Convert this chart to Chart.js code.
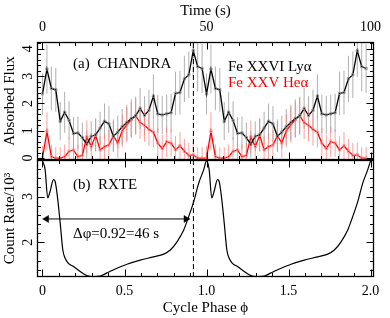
<!DOCTYPE html>
<html><head><meta charset="utf-8">
<script src="https://cdn.jsdelivr.net/npm/chart.js@4.4.1/dist/chart.umd.min.js"></script>
<style>
html,body{margin:0;padding:0;background:#fff;}
#wrap{position:relative;width:390px;height:318px;background:#fff;}
canvas{position:absolute;left:0;top:0;}
</style></head><body>
<div id="wrap"><canvas id="ca" width="390" height="318"></canvas><canvas id="cb" width="390" height="318"></canvas></div>
<script>
// ---------- DATA ----------
// Chandra phase bins (two folded cycles)
const PHASE = [0.000,0.027,0.054,0.081,0.108,0.135,0.162,0.189,0.216,0.243,0.270,0.297,0.324,0.351,0.378,0.405,0.432,0.459,0.486,0.514,0.541,0.568,0.595,0.622,0.649,0.676,0.703,0.730,0.757,0.784,0.811,0.838,0.865,0.892,0.919,0.946,0.973,
1.000,1.027,1.054,1.081,1.108,1.135,1.162,1.189,1.216,1.243,1.270,1.297,1.324,1.351,1.378,1.405,1.432,1.459,1.486,1.514,1.541,1.568,1.595,1.622,1.649,1.676,1.703,1.730,1.757,1.784,1.811,1.838,1.865,1.892,1.919,1.946,1.973];
// Fe XXVI Ly-alpha absorbed flux
const FE26 = [2.35,3.26,2.55,2.50,1.35,1.68,1.38,0.90,0.92,0.75,0.50,0.80,0.85,1.10,1.35,1.25,0.80,0.95,1.15,1.30,1.45,1.55,1.82,1.56,1.75,2.27,1.62,1.58,1.62,1.66,2.37,2.40,2.90,3.05,3.93,3.35,3.28,
2.35,3.26,2.55,2.50,1.35,1.68,1.38,0.90,0.92,0.75,0.50,0.80,0.85,1.10,1.35,1.25,0.80,0.95,1.15,1.30,1.45,1.55,1.82,1.56,1.75,2.27,1.62,1.58,1.62,1.66,2.37,2.40,2.90,3.05,3.93,3.35,3.28];
const FE26_ERR = [0.75,0.90,0.80,0.80,0.70,0.75,0.70,0.60,0.60,0.55,0.50,0.55,0.60,0.60,0.65,0.65,0.55,0.60,0.65,0.65,0.70,0.70,0.75,0.70,0.75,0.80,0.70,0.70,0.70,0.70,0.80,0.80,0.85,0.85,0.95,0.90,0.90,
0.75,0.90,0.80,0.80,0.70,0.75,0.70,0.60,0.60,0.55,0.50,0.55,0.60,0.60,0.65,0.65,0.55,0.60,0.65,0.65,0.70,0.70,0.75,0.70,0.75,0.80,0.70,0.70,0.70,0.70,0.80,0.80,0.85,0.85,0.95,0.90,0.90];
// Fe XXV He-alpha absorbed flux
const FE25 = [0.00,0.98,0.05,0.00,0.00,0.05,0.25,0.30,0.05,0.10,0.78,0.42,0.84,0.30,0.42,0.48,0.82,0.55,1.00,1.22,1.40,1.55,1.30,1.20,1.05,0.95,0.55,0.35,0.60,0.55,0.30,0.45,0.25,0.10,0.12,0.00,0.00,
0.00,0.98,0.05,0.00,0.00,0.05,0.25,0.30,0.05,0.10,0.78,0.42,0.84,0.30,0.42,0.48,0.82,0.55,1.00,1.22,1.40,1.55,1.30,1.20,1.05,0.95,0.55,0.35,0.60,0.55,0.30,0.45,0.25,0.10,0.12,0.00,0.00];
const FE25_ERR = [0.45,0.70,0.45,0.40,0.40,0.45,0.50,0.50,0.45,0.45,0.60,0.50,0.60,0.50,0.50,0.55,0.60,0.55,0.60,0.65,0.65,0.65,0.60,0.60,0.60,0.55,0.55,0.50,0.55,0.50,0.50,0.50,0.45,0.45,0.45,0.40,0.40,
0.45,0.70,0.45,0.40,0.40,0.45,0.50,0.50,0.45,0.45,0.60,0.50,0.60,0.50,0.50,0.55,0.60,0.55,0.60,0.65,0.65,0.65,0.60,0.60,0.60,0.55,0.55,0.50,0.55,0.50,0.50,0.50,0.45,0.45,0.45,0.40,0.40];
// RXTE light curve (count rate / 1000)
const RXTE_PHASE = [0.000,0.016,0.032,0.046,0.067,0.077,0.091,0.108,0.124,0.138,0.158,0.189,0.230,0.270,0.311,0.352,0.393,0.454,0.515,0.596,0.677,0.739,0.779,0.820,0.861,0.891,0.922,0.952,0.983,
1.000,1.016,1.032,1.046,1.067,1.077,1.091,1.108,1.124,1.138,1.158,1.189,1.230,1.270,1.311,1.352,1.393,1.454,1.515,1.596,1.677,1.739,1.779,1.820,1.861,1.891,1.922,1.952,1.983,2.000];
const RXTE_RATE = [3.78,3.59,2.97,3.11,3.37,3.33,3.00,2.42,1.83,1.65,1.54,1.47,1.36,1.27,1.25,1.26,1.33,1.43,1.52,1.61,1.68,1.74,1.83,2.01,2.27,2.56,2.89,3.29,3.59,
3.78,3.59,2.97,3.11,3.37,3.33,3.00,2.42,1.83,1.65,1.54,1.47,1.36,1.27,1.25,1.26,1.33,1.43,1.52,1.61,1.68,1.74,1.83,2.01,2.27,2.56,2.89,3.29,3.59,3.78];
// phase delay marker and arrow
const DELAY_PHASE = 0.92;
const ARROW_PHASE = [0.025, 0.875];
const ARROW_RATE = [2.51, 2.51];
// axis ranges and tick labels
const X_RANGE = [-0.0335, 2.021];
const SECONDS_PER_CYCLE = 50;
const TIME_TICKS = [0, 50, 100];
const PHASE_TICKS = [0, 0.5, 1, 1.5, 2];
const FLUX_RANGE = [-0.07, 4.25];
const RATE_RANGE = [1.24, 3.80];

// ---------- STYLE ----------
const SERIF = '"Liberation Serif","Times New Roman",serif';
const pts = (xs, ys) => xs.map((x, i) => ({x, y: ys[i]}));
const errs = (xs, ys, es) => xs.map((x, i) => ({x, y: [ys[i] - es[i], ys[i] + es[i]]}));

const frameTicks = {
  id: 'frameTicks',
  afterDatasetsDraw(chart, args, o) {
    const {ctx, chartArea: a} = chart;
    ctx.save();
    ctx.strokeStyle = '#000';
    ctx.lineWidth = 1;
    const L = Math.round(a.left) + 0.5, R = Math.round(a.right) - 0.5, T = Math.round(a.top) + 0.5, B = Math.round(a.bottom) - 0.5;
    const tickSet = (sc, minor, major) => {
      const out = [];
      const n0 = Math.ceil(sc.min / minor - 1e-6), n1 = Math.floor(sc.max / minor + 1e-6);
      for (let n = n0; n <= n1; n++) {
        const v = n * minor;
        const isMajor = Math.abs(v / major - Math.round(v / major)) < 1e-6;
        out.push([Math.round(sc.getPixelForValue(v)) + 0.5, isMajor ? 7 : 3.5]);
      }
      return out;
    };
    ctx.beginPath();
    const sb = chart.scales[o.bottom.id];
    tickSet(sb, o.bottom.minor, o.bottom.major).forEach(([p, l]) => { ctx.moveTo(p, B); ctx.lineTo(p, B - l); });
    const st = chart.scales[o.top.id];
    tickSet(st, o.top.minor, o.top.major).forEach(([p, l]) => { ctx.moveTo(p, T); ctx.lineTo(p, T + l); });
    const sy = chart.scales[o.y.id];
    tickSet(sy, o.y.minor, o.y.major).forEach(([p, l]) => {
      ctx.moveTo(L, p); ctx.lineTo(L + l, p);
      ctx.moveTo(R, p); ctx.lineTo(R - l, p);
    });
    ctx.stroke();
    ctx.lineWidth = 1.3;
    ctx.strokeRect(L, T, R - L, B - T);
    // annotations
    (o.texts || []).forEach(t => {
      ctx.font = '15px ' + SERIF;
      ctx.fillStyle = t.color || '#000';
      ctx.textBaseline = 'alphabetic';
      ctx.textAlign = 'left';
      ctx.fillText(t.text, chart.scales.x.getPixelForValue(t.x), chart.scales.y.getPixelForValue(t.y));
    });
    ctx.restore();
  }
};

const common = {
  responsive: false,
  animation: false,
  events: [],
  plugins: {legend: {display: false}, tooltip: {enabled: false}},
};
const noGrid = {display: false, drawTicks: false, tickLength: 0};
const yTicks = {font: {family: SERIF, size: 14}, color: '#000', stepSize: 1, minRotation: 90, maxRotation: 90, crossAlign: 'center', padding: 5, includeBounds: false};
const fixW = w => s => { s.width = w; s.paddingTop = 0; s.paddingBottom = 0; };
const fixH = h => s => { s.height = h; s.paddingLeft = 0; s.paddingRight = 0; };
const errBar = {type: 'bar', barThickness: 1, grouped: false, inflateAmount: 0, borderWidth: 0, borderSkipped: false};

// ---------- TOP PANEL (Chandra) ----------
new Chart(document.getElementById('ca'), {
  type: 'line',
  data: {
    datasets: [
      Object.assign({}, errBar, {data: errs(PHASE, FE26, FE26_ERR), backgroundColor: 'rgba(150,150,150,0.75)', order: 6}),
      Object.assign({}, errBar, {data: errs(PHASE, FE25, FE25_ERR), backgroundColor: 'rgba(255,120,120,0.7)', order: 5}),
      {data: [{x: DELAY_PHASE, y: FLUX_RANGE[0]}, {x: DELAY_PHASE, y: FLUX_RANGE[1]}], borderColor: '#000', borderWidth: 1, borderDash: [5, 3], pointRadius: 0, order: 4},
      {data: pts(PHASE, FE25), borderColor: '#ff0000', borderWidth: 1.3, pointStyle: 'rect', pointRadius: 1.6, pointBorderWidth: 0.8, pointBorderColor: '#ff8a8a', pointBackgroundColor: 'rgba(255,255,255,0)', order: 3},
      {data: pts(PHASE, FE26), borderColor: '#000', borderWidth: 1.3, pointStyle: 'rect', pointRadius: 1.6, pointBorderWidth: 0.8, pointBorderColor: '#888', pointBackgroundColor: 'rgba(255,255,255,0)', order: 2},
    ]
  },
  options: Object.assign({}, common, {
    layout: {padding: {left: 0, right: 16, top: 0, bottom: 158}},
    scales: {
      x: {type: 'linear', display: false, offset: false, min: X_RANGE[0], max: X_RANGE[1]},
      xt: {type: 'linear', position: 'top', offset: false, min: X_RANGE[0] * SECONDS_PER_CYCLE, max: X_RANGE[1] * SECONDS_PER_CYCLE,
        grid: noGrid, border: {display: false},
        afterBuildTicks: s => { s.ticks = TIME_TICKS.map(v => ({value: v})); },
        ticks: {font: {family: SERIF, size: 14}, color: '#000', padding: 6, maxRotation: 0},
        title: {display: true, text: 'Time (s)', font: {family: SERIF, size: 15}, color: '#000', padding: {top: 2, bottom: 0}},
        afterFit: fixH(42)},
      y: {type: 'linear', position: 'left', min: FLUX_RANGE[0], max: FLUX_RANGE[1], grid: noGrid, border: {display: false},
        ticks: yTicks,
        title: {display: true, text: 'Absorbed Flux', font: {family: SERIF, size: 15}, color: '#000', padding: {top: 1, bottom: 0}},
        afterFit: fixW(37)},
    },
    plugins: Object.assign({}, common.plugins, {
      frameTicks: {
        bottom: {id: 'x', minor: 0.1, major: 0.5},
        top: {id: 'xt', minor: 5, major: 50},
        y: {id: 'y', minor: 0.2, major: 1},
        texts: [
          {text: '(a)  CHANDRA', x: 0.186, y: 3.30},
          {text: 'Fe XXVI Ly\u03B1', x: 1.131, y: 3.19},
          {text: 'Fe XXV He\u03B1', x: 1.131, y: 2.60, color: '#ff0000'},
        ]
      }
    })
  }),
  plugins: [frameTicks]
});

// ---------- BOTTOM PANEL (RXTE) ----------
new Chart(document.getElementById('cb'), {
  type: 'line',
  data: {
    datasets: [
      {data: [{x: DELAY_PHASE, y: RATE_RANGE[0]}, {x: DELAY_PHASE, y: RATE_RANGE[1]}], borderColor: '#000', borderWidth: 1, borderDash: [5, 3], pointRadius: 0, order: 3},
      {data: pts(ARROW_PHASE, ARROW_RATE), borderColor: '#000', borderWidth: 1, pointStyle: 'triangle', pointRadius: 4,
        rotation: c => c.dataIndex === 0 ? -90 : 90, pointBackgroundColor: '#000', pointBorderColor: '#000', pointBorderWidth: 0.5, order: 2},
      {data: pts(RXTE_PHASE, RXTE_RATE), borderColor: '#000', borderWidth: 1.2, pointRadius: 0, cubicInterpolationMode: 'monotone', order: 1},
    ]
  },
  options: Object.assign({}, common, {
    layout: {padding: {left: 0, right: 16, top: 160, bottom: 0}},
    scales: {
      x: {type: 'linear', position: 'bottom', offset: false, min: X_RANGE[0], max: X_RANGE[1], grid: noGrid, border: {display: false},
        afterBuildTicks: s => { s.ticks = PHASE_TICKS.map(v => ({value: v})); },
        ticks: {font: {family: SERIF, size: 14}, color: '#000', padding: 6, maxRotation: 0},
        title: {display: true, text: 'Cycle Phase \u03D5', font: {family: SERIF, size: 15}, color: '#000', padding: {top: 0, bottom: 1}},
        afterFit: fixH(41)},
      y: {type: 'linear', position: 'left', min: RATE_RANGE[0], max: RATE_RANGE[1], grid: noGrid, border: {display: false},
        ticks: yTicks,
        title: {display: true, text: 'Count Rate/10\u00B3', font: {family: SERIF, size: 15}, color: '#000', padding: {top: 1, bottom: 0}},
        afterFit: fixW(37)},
    },
    plugins: Object.assign({}, common.plugins, {
      frameTicks: {
        bottom: {id: 'x', minor: 0.1, major: 0.5},
        top: {id: 'x', minor: 0.1, major: 0.5},
        y: {id: 'y', minor: 0.2, major: 1},
        texts: [
          {text: '(b)  RXTE', x: 0.186, y: 3.17},
          {text: '\u0394\u03C6=0.92=46 s', x: 0.186, y: 2.09},
        ]
      }
    })
  }),
  plugins: [frameTicks]
});
</script>
</body></html>
